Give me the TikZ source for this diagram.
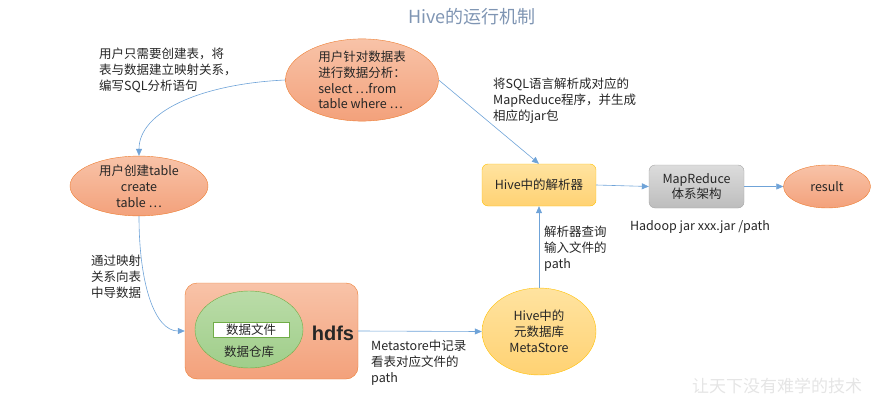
\documentclass[tikz,border=0pt]{standalone}
\usepackage{fontspec}
\setmainfont{Noto Sans CJK SC}
\newfontfamily\hdfsfont{Liberation Sans}
\usetikzlibrary{shapes.geometric, arrows.meta, positioning}

\definecolor{arrowblue}{HTML}{6FA3D8}
\definecolor{titleblue}{HTML}{7F95B3}
\definecolor{orangeline}{HTML}{ED7D31}
\definecolor{orangetop}{HTML}{F8C3A8}
\definecolor{orangebot}{HTML}{F3A17B}
\definecolor{yellowline}{HTML}{FFC000}
\definecolor{yellowtop}{HTML}{FFE3A0}
\definecolor{yellowbot}{HTML}{FFD273}
\definecolor{greyline}{HTML}{A6A6A6}
\definecolor{greytop}{HTML}{DCDCDC}
\definecolor{greybot}{HTML}{BDBDBD}
\definecolor{greenline}{HTML}{70AD47}
\definecolor{greentop}{HTML}{BADCA8}
\definecolor{greenbot}{HTML}{A0CE8A}
\definecolor{textdark}{HTML}{262626}

\begin{document}
\begin{tikzpicture}[x=1pt, y=-1pt,
    every node/.style={text=textdark, font=\fontsize{12.5}{15.8}\selectfont},
    bubble/.style={ellipse, draw=orangeline, top color=orangetop, bottom color=orangebot, inner sep=0pt, align=center},
    metastore/.style={ellipse, draw=yellowline, top color=yellowtop, bottom color=yellowbot, inner sep=0pt, align=center},
    parserbox/.style={draw=yellowline, rounded corners=6pt, top color=yellowtop, bottom color=yellowbot, align=center},
    engine/.style={draw=greyline, rounded corners=6pt, top color=greytop, bottom color=greybot, align=center},
    hdfsbox/.style={draw=orangeline, rounded corners=12pt, top color=orangetop, bottom color=orangebot},
    warehouse/.style={ellipse, draw=greenline, top color=greentop, bottom color=greenbot},
    filebox/.style={draw=greenline, fill=white, inner sep=0pt, minimum width=76, minimum height=15},
    note/.style={align=left, anchor=north west, inner sep=0pt},
    arrow/.style={-{Triangle[length=7pt, width=6pt]}, draw=arrowblue, line width=0.6pt}
]
\useasboundingbox (0,0) rectangle (888,401);

\node[text=titleblue, font=\fontsize{18}{18}\selectfont] (title) at (472,17) {Hive的运行机制};

% nodes
\node[bubble, minimum width=153, minimum height=79, align=left] (query) at (362,80) {用户针对数据表\\进行数据分析：\\select …from\\table where …};
\node[bubble, minimum width=138, minimum height=57] (create) at (139,186) {用户创建table\\create\\table …};
\node[parserbox, minimum width=114, minimum height=42] (parser) at (539,185) {Hive中的解析器};
\node[engine, minimum width=95, minimum height=43] (mr) at (696.5,186.5) {MapReduce\\体系架构};
\node[bubble, minimum width=87, minimum height=43] (result) at (827,186.5) {result};
\node[metastore, minimum width=114, minimum height=87] (meta) at (539,331.5) {Hive中的\\元数据库\\MetaStore};
\node[hdfsbox, minimum width=173, minimum height=96] (hdfs) at (271.5,331) {};
\node[warehouse, minimum width=108, minimum height=77] (dw) at (249,329.5) {};
\node[filebox] (file) at (251,329.5) {数据文件};
\node (dwlabel) at (249,352) {数据仓库};
\node[font=\hdfsfont\bfseries\fontsize{20}{20}\selectfont] (hdfslabel) at (333,333) {hdfs};

% labels
\node[note] (mapnote) at (99,48) {用户只需要创建表，将\\表与数据建立映射关系，\\编写SQL分析语句};
\node[note] (jarnote) at (493,78) {将SQL语言解析成对应的\\MapReduce程序，并生成\\相应的jar包};
\node[note] (pathnote) at (544,226) {解析器查询\\输入文件的\\path};
\node[note] (loadnote) at (91,255) {通过映射\\关系向表\\中导数据};
\node[note] (metanote) at (371,340) {Metastore中记录\\看表对应文件的\\path};
\node (hadoop) at (700,227) {Hadoop jar xxx.jar /path};
\node[text=black!10, font=\fontsize{17}{17}\selectfont] (mark) at (777,386) {让天下没有难学的技术};

% connectors
\draw[arrow] (query.west) .. controls (200,84) and (139,112) .. (create.north);
\draw[arrow] (query.east) -- (parser.north);
\draw[arrow] (parser.east) -- (mr.west);
\draw[arrow] (mr.east) -- (result.west);
\draw[arrow] (meta.north) -- (parser.south);
\draw[arrow] (create.south) .. controls (139,285) and (155,331) .. (hdfs.west);
\draw[arrow] (hdfs.east) -- (meta.west);
\end{tikzpicture}
\end{document}
